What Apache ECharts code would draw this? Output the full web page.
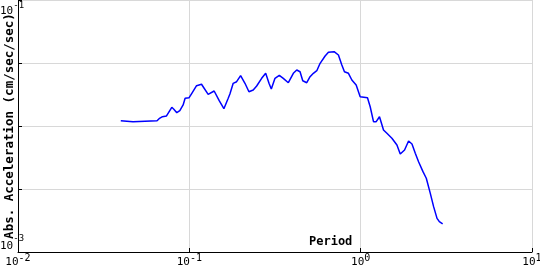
<!DOCTYPE html>
<html>
<head>
<meta charset="utf-8">
<script src="https://cdn.jsdelivr.net/npm/echarts@6/dist/echarts.min.js"></script>
<style>html,body{margin:0;padding:0;background:#fff}#c{width:540px;height:270px}</style>
</head>
<body>
<div id="c"></div>
<script>
const periods = [0.0398,0.0469,0.0480,0.0648,0.0666,0.0697,0.0736,0.0752,0.0790,0.0812,0.0845,0.0880,0.0920,0.0945,0.0997,0.1034,0.1102,0.1178,0.1204,0.1288,0.1396,0.1494,0.1591,0.1686,0.1725,0.1803,0.1888,0.1992,0.2112,0.2228,0.2360,0.2472,0.2643,0.2790,0.2917,0.3009,0.3162,0.3350,0.3535,0.3783,0.4046,0.4236,0.4428,0.4592,0.4845,0.5066,0.5297,0.5546,0.5798,0.6201,0.6483,0.6998,0.7417,0.7764,0.8041,0.8486,0.8882,0.9413,0.9933,1.0959,1.1366,1.1882,1.2320,1.2880,1.3591,1.4229,1.5219,1.6281,1.7022,1.8038,1.9037,1.9930,2.0836,2.1777,2.3103,2.4155,2.5494,2.6654,2.7903,2.8785,3.0094];
const accels = [0.01102,0.01082,0.01102,0.01102,0.01143,0.01185,0.01201,0.01229,0.01407,0.01357,0.01275,0.01322,0.01468,0.01659,0.01677,0.01817,0.02089,0.02143,0.02050,0.01784,0.01896,0.01588,0.01372,0.01659,0.01795,0.02182,0.02247,0.02507,0.02182,0.01871,0.01931,0.02077,0.02390,0.02620,0.02182,0.01967,0.02390,0.02526,0.02390,0.02206,0.02620,0.02782,0.02697,0.02288,0.02206,0.02461,0.02620,0.02747,0.03145,0.03594,0.03845,0.03887,0.03660,0.03049,0.02697,0.02620,0.02318,0.02115,0.01708,0.01677,0.01422,0.01082,0.01082,0.01185,0.00930,0.00875,0.00799,0.00707,0.00599,0.00645,0.00760,0.00720,0.00607,0.00521,0.00434,0.00385,0.00292,0.00229,0.00185,0.00174,0.00167];
const xTickExponents = ['-2','-1','0','1'];
const yLabelExponents = ['-3','-1'];
const xName = 'Period';
const yName = 'Abs. Acceleration (cm/sec/sec)';

const mono = 'DejaVu Sans Mono';
const xRich = {
  b: {fontFamily: mono, fontSize: 11, color: '#000', lineHeight: 15, verticalAlign: 'bottom'},
  s: {fontFamily: mono, fontSize: 10, color: '#000', lineHeight: 10, verticalAlign: 'top'}
};
const yRich = {
  bt: {fontFamily: mono, fontSize: 11, color: '#000', lineHeight: 15.5, verticalAlign: 'bottom'},
  st: {fontFamily: mono, fontSize: 9, color: '#000', lineHeight: 8, verticalAlign: 'top'},
  bb: {fontFamily: mono, fontSize: 11, color: '#000', lineHeight: 17.5, verticalAlign: 'bottom'},
  sb: {fontFamily: mono, fontSize: 9, color: '#000', lineHeight: 8, verticalAlign: 'top'}
};
function expOf(v){ return Math.round(Math.log10(v)*2)/2; }

const chart = echarts.init(document.getElementById('c'), null, {renderer: 'canvas'});
chart.setOption({
  animation: false,
  backgroundColor: '#fff',
  grid: {left: 18, right: 8, top: 0, bottom: 18, containLabel: false, outerBoundsMode: 'none'},
  xAxis: {
    type: 'log', logBase: 10, min: 0.01, max: 10,
    axisLine: {show: true, lineStyle: {color: '#000', width: 1}},
    axisTick: {show: true, inside: true, length: 4, lineStyle: {color: '#000'}},
    minorTick: {show: false},
    splitLine: {show: true, lineStyle: {color: '#d8d8d8', width: 1}},
    axisLabel: {
      margin: 1,
      formatter: function(v){
        const e = String(expOf(v));
        return xTickExponents.indexOf(e) >= 0 ? '{b|10}{s|' + e + '}' : '';
      },
      rich: xRich
    }
  },
  yAxis: {
    type: 'log', logBase: 10, min: 0.001, max: 0.1, interval: 0.5,
    axisLine: {show: true, lineStyle: {color: '#000', width: 1}},
    axisTick: {show: true, inside: true, length: 4, lineStyle: {color: '#000'}},
    splitLine: {show: true, lineStyle: {color: '#d8d8d8', width: 1}},
    name: yName,
    nameLocation: 'middle',
    nameRotate: 90,
    nameGap: 2,
    nameMoveOverlap: false,
    nameTextStyle: {fontFamily: mono, fontWeight: 'bold', fontSize: 12.5, color: '#000'},
    axisLabel: {
      margin: 18,
      align: 'left',
      lineHeight: 17.5,
      formatter: function(v){
        const e = String(expOf(v));
        if (yLabelExponents.indexOf(e) < 0) return '';
        return e === yLabelExponents[yLabelExponents.length - 1]
          ? '\n{bt|10}{st|' + e + '}'
          : '{bb|10}{sb|' + e + '}\n';
      },
      rich: yRich
    }
  },
  graphic: [{
    type: 'text', left: 309, top: 236,
    style: {text: xName, fontFamily: mono, fontWeight: 'bold', fontSize: 12, fill: '#000'}
  }],
  series: [{
    type: 'line',
    data: periods.map((p, i) => [p, accels[i]]),
    showSymbol: false,
    lineStyle: {color: '#0000ff', width: 1.5},
    itemStyle: {color: '#0000ff'}
  }]
});
</script>
</body>
</html>
